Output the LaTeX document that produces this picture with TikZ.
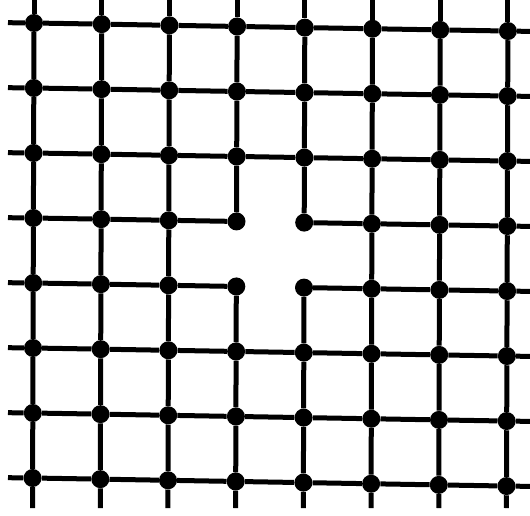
\documentclass[tikz,border=0pt]{standalone}
\begin{document}
\begin{tikzpicture}[x=1pt,y=1pt,
  bond/.style={line width=5pt,black},
  site/.style={circle,fill=black,inner sep=0pt,minimum size=18pt}]
\useasboundingbox (0,0) rectangle (530,-516);
% sites
\foreach \r in {0,...,7}{
  \foreach \c in {0,...,7}{
    \node[site] (d-\c-\r) at ({34+67.7*\c-0.2*\r},{-(23+65*\r+1.15*\c)}) {};
  }
}
% stub ends
\foreach \r in {0,...,7}{
  \coordinate (L-\r) at (8,{-(23+65*\r-0.3)});
  \coordinate (R-\r) at (530,{-(23+65*\r+1.15*7.3)});
  \draw[bond] (L-\r) -- (d-0-\r);
  \draw[bond] (d-7-\r) -- (R-\r);
}
\foreach \c in {0,...,7}{
  \coordinate (T-\c) at ({34+67.7*\c},0);
  \coordinate (B-\c) at ({34+67.7*\c-1.45},-508);
  \draw[bond] (T-\c) -- (d-\c-0);
  \draw[bond] (d-\c-7) -- (B-\c);
}
% horizontal bonds
\foreach \r in {0,...,7}{
  \foreach \c in {0,...,6}{
    \pgfmathtruncatemacro\nx{\c+1}
    \pgfmathtruncatemacro\gapflag{(\c==3)&&((\r==3)||(\r==4))}
    \ifnum\gapflag=0 \draw[bond] (d-\c-\r) -- (d-\nx-\r); \fi
  }
}
% vertical bonds
\foreach \c in {0,...,7}{
  \foreach \r in {0,...,6}{
    \pgfmathtruncatemacro\ny{\r+1}
    \pgfmathtruncatemacro\gapflag{(\r==3)&&((\c==3)||(\c==4))}
    \ifnum\gapflag=0 \draw[bond] (d-\c-\r) -- (d-\c-\ny); \fi
  }
}
\end{tikzpicture}
\end{document}
